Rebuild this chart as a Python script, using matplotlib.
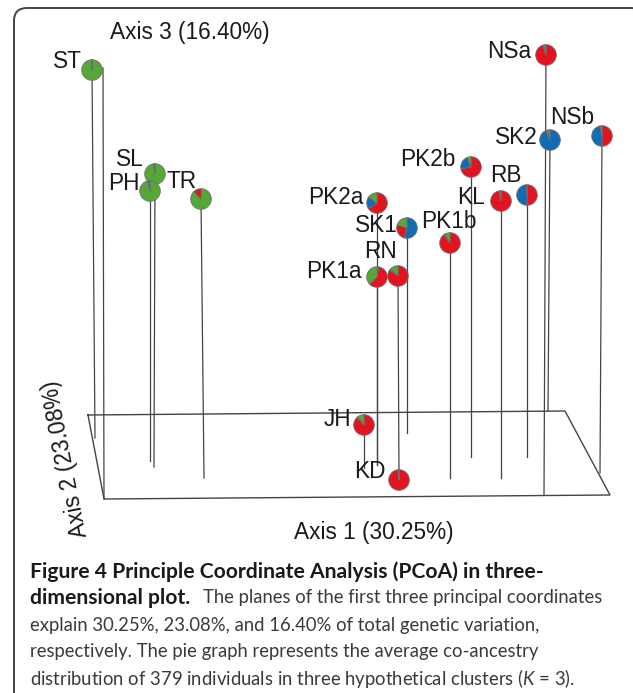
import matplotlib
matplotlib.use("Agg")
import matplotlib.pyplot as plt
from matplotlib.patches import FancyBboxPatch

W, H = 633, 693

# population labels, pie centres and stem ends in pixels
names = ['ST', 'SL', 'PH', 'TR', 'PK2a', 'SK1', 'RN', 'PK1a', 'PK1b', 'PK2b',
         'KL', 'RB', 'NSa', 'SK2', 'NSb', 'JH', 'KD']
xs = [92, 155, 150, 201, 377, 407, 398, 377, 450, 471, 501, 527, 546, 550, 602, 364, 399]
ys = [70, 174, 191, 199, 203, 228, 276, 277, 243, 167, 201, 195, 55, 140, 136, 425, 480]
stem_x = [95, 154, 150, 204, 377, 407, 399, 377, 450, 471, 501, 527, 544, 548, 600, 364, 399]
stem_end = [438, 467, 461, 478, 465, 433, 480, 465, 478, 457, 478, 457, 495, 411, 473, 468, 480]

# cluster shares and the clockwise order they start from at 12 o'clock
red = [0.005, 0.02, 0.005, 0.12, 0.66, 0.25, 0.85, 0.60, 0.90, 0.72, 0.97, 0.50, 0.95, 0.03, 0.50, 0.88, 0.98]
blue = [0.005, 0.005, 0.035, 0.005, 0.19, 0.55, 0.02, 0.03, 0.02, 0.22, 0.01, 0.49, 0.02, 0.93, 0.47, 0.02, 0.01]
green = [0.99, 0.975, 0.96, 0.875, 0.15, 0.20, 0.13, 0.37, 0.08, 0.06, 0.02, 0.01, 0.03, 0.04, 0.03, 0.10, 0.01]
order = ['rgb', 'grb', 'gbr', 'gbr', 'rbg', 'brg', 'rbg', 'brg', 'rbg', 'rbg',
         'rbg', 'rbg', 'rbg', 'brg', 'rbg', 'rbg', 'rbg']

label_x = [67, 130, 124, 182, 336, 376, 381, 334, 449, 428, 471, 506, 509, 516, 572, 338, 370]
label_y = [61, 160, 184, 182, 197, 226, 252, 271, 222, 160, 198, 176, 51, 137, 117, 419, 472]

plane_x = [88, 565, 610, 104, 88]
plane_y = [415, 411, 495, 499, 415]
extra_x = [103, 104]
extra_y = [68, 499]

colors = {'r': '#e2141f', 'b': '#0f6cb5', 'g': '#55a838'}
edge = '#6f6f6f'
line = '#444444'
ink = '#1a1a1a'
cap = '#3a3a3a'
cap_font = 'Lato'

plt.rcParams['mathtext.fontset'] = 'custom'
plt.rcParams['mathtext.rm'] = 'Lato'
plt.rcParams['mathtext.it'] = 'Lato:italic'


def py(y):
    return H - y


fig = plt.figure(figsize=(W / 100, H / 100), dpi=100)
ax = fig.add_axes([0, 0, 1, 1])

# rounded outer frame, runs off the right and bottom of the figure
ax.add_patch(FancyBboxPatch((14, py(740)), 630, 732, boxstyle="round,pad=0,rounding_size=13",
                            fc='white', ec='#444444', lw=1.4, zorder=0))

ax.plot(plane_x, [py(v) for v in plane_y], color=line, lw=1.0, zorder=1)
ax.plot(extra_x, [py(v) for v in extra_y], color=line, lw=0.9, zorder=1)

for i, name in enumerate(names):
    ax.plot([xs[i], stem_x[i]], [py(ys[i]), py(stem_end[i])], color=line, lw=0.9, zorder=1)

for i, name in enumerate(names):
    share = {'r': red[i], 'b': blue[i], 'g': green[i]}
    vals = [share[c] for c in order[i]]
    cols = [colors[c] for c in order[i]]
    ax.pie(vals, colors=cols, center=(xs[i], py(ys[i])), radius=10.3, startangle=90, counterclock=False,
           wedgeprops=dict(edgecolor=edge, linewidth=0.6, zorder=3), normalize=True)
    ax.text(label_x[i], py(label_y[i]), name, family='Liberation Sans', fontsize=16.3, color=ink,
            ha='center', va='center', zorder=4)

ax.text(110, py(32), 'Axis 3 (16.40%)', family='Liberation Sans', fontsize=16.3, color=ink, va='center')
ax.text(294, py(533), 'Axis 1 (30.25%)', family='Liberation Sans', fontsize=16.3, color=ink, va='center')
ax.text(65, py(459), 'Axis 2 (23.08%)', family='Liberation Sans', fontsize=16.3, color=ink,
        rotation=101, rotation_mode='anchor', ha='center', va='center')

# caption
ax.text(30, py(572), 'Figure 4 Principle Coordinate Analysis (PCoA) in three-', family=cap_font,
        fontsize=15.2, weight='bold', color=ink, va='center')
ax.text(30, py(598), 'dimensional plot.', family=cap_font, fontsize=15.2, weight='bold', color=ink, va='center')
ax.text(203, py(598), 'The planes of the first three principal coordinates', family=cap_font,
        fontsize=13.35, color=cap, va='center')
ax.text(30, py(625), 'explain 30.25%, 23.08%, and 16.40% of total genetic variation,', family=cap_font,
        fontsize=13.35, color=cap, va='center')
ax.text(30, py(651), 'respectively. The pie graph represents the average co-ancestry', family=cap_font,
        fontsize=13.35, color=cap, va='center')
ax.text(30, py(678), 'distribution of 379 individuals in three hypothetical clusters ($\\mathit{K}$ = 3).', family=cap_font,
        fontsize=13.35, color=cap, va='center')

ax.set_xlim(0, W)
ax.set_ylim(0, H)
ax.set_aspect('auto')
ax.axis('off')
fig.savefig('out.png', dpi=100)
